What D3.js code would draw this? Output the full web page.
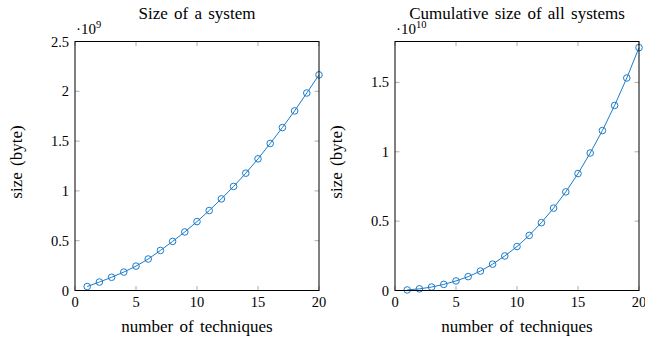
<!DOCTYPE html>
<html>
<head>
<meta charset="UTF-8" />
<title>system size</title>
<style>
    body { margin: 0; padding: 0; background: #fff; }
    svg { display: block; }
    svg text { font-family: 'Liberation Serif', 'Times New Roman', 'DejaVu Serif', serif; }
</style>
</head>
<body>
<div class="container"></div>
<script src="https://cdnjs.cloudflare.com/ajax/libs/d3/7.8.5/d3.min.js"></script>
<script>
    // number of techniques
    const techniques = [1, 2, 3, 4, 5, 6, 7, 8, 9, 10, 11, 12, 13, 14, 15, 16, 17, 18, 19, 20];
    // size of one system, in units of 1e9 byte
    const systemSize = [0.04, 0.085, 0.133, 0.185, 0.245, 0.316, 0.402, 0.493, 0.588, 0.692,
        0.803, 0.92, 1.045, 1.178, 1.322, 1.476, 1.636, 1.803, 1.983, 2.165];
    // cumulative size of all systems, in units of 1e10 byte
    const cumulativeSize = [0.004, 0.012, 0.025, 0.044, 0.069, 0.1, 0.14, 0.19, 0.249, 0.317,
        0.397, 0.489, 0.594, 0.711, 0.843, 0.991, 1.153, 1.334, 1.532, 1.751];
    const xTicks = [0, 5, 10, 15, 20];
    const leftYTicks = [0, 0.5, 1, 1.5, 2, 2.5];
    const rightYTicks = [0, 0.5, 1, 1.5];

    const width = 645, height = 339;
    const svg = d3.select('.container').append('svg')
        .attr('width', width)
        .attr('height', height);

    const color = '#1a7ccb';

    const drawPanel = (opts) => {
        const { left, right, title, values, yMax, yTicks, exponent } = opts;
        const top = 41.5, bottom = 290.5;

        const x = d3.scaleLinear().domain([0, 20]).range([left, right]);
        const y = d3.scaleLinear().domain([0, yMax]).range([bottom, top]);

        const g = svg.append('g');

        // inward ticks on all four sides
        const tickLen = 4.5;
        const tk = g.append('g').attr('stroke', '#999').attr('stroke-width', 0.8);
        xTicks.forEach(t => {
            tk.append('line').attr('x1', x(t)).attr('x2', x(t)).attr('y1', bottom).attr('y2', bottom - tickLen);
            tk.append('line').attr('x1', x(t)).attr('x2', x(t)).attr('y1', top).attr('y2', top + tickLen);
        });
        yTicks.forEach(t => {
            tk.append('line').attr('x1', left).attr('x2', left + tickLen).attr('y1', y(t)).attr('y2', y(t));
            tk.append('line').attr('x1', right).attr('x2', right - tickLen).attr('y1', y(t)).attr('y2', y(t));
        });

        // tick labels
        g.append('g').selectAll('text')
            .data(xTicks)
            .join('text')
            .attr('x', d => x(d))
            .attr('y', bottom + 16)
            .attr('text-anchor', 'middle')
            .attr('font-size', 14.5)
            .text(d => d);

        g.append('g').selectAll('text')
            .data(yTicks)
            .join('text')
            .attr('x', left - 6)
            .attr('y', d => y(d) + 5)
            .attr('text-anchor', 'end')
            .attr('font-size', 14.5)
            .text(d => d);

        // exponent label
        const ex = g.append('text')
            .attr('x', left + 1)
            .attr('y', top - 8)
            .attr('font-size', 15);
        ex.append('tspan').text('·10');
        ex.append('tspan').attr('dy', -5.5).attr('font-size', 10.5).text(exponent);

        // line and markers
        const pts = techniques.map((t, i) => [t, values[i]]);
        g.append('path')
            .datum(pts)
            .attr('fill', 'none')
            .attr('stroke', color)
            .attr('stroke-width', 1)
            .attr('d', d3.line().x(d => x(d[0])).y(d => y(d[1])));

        g.append('g').selectAll('circle')
            .data(pts)
            .join('circle')
            .attr('cx', d => x(d[0]))
            .attr('cy', d => y(d[1]))
            .attr('r', 3.3)
            .attr('fill', 'none')
            .attr('stroke', color)
            .attr('stroke-width', 1);

        // frame
        g.append('rect')
            .attr('x', left).attr('y', top)
            .attr('width', right - left).attr('height', bottom - top)
            .attr('fill', 'none')
            .attr('stroke', '#000')
            .attr('stroke-width', 1);

        // titles and axis labels
        g.append('text')
            .attr('x', (left + right) / 2)
            .attr('y', 19)
            .attr('text-anchor', 'middle')
            .attr('font-size', 17)
            .attr('word-spacing', 2)
            .text(title);

        g.append('text')
            .attr('x', (left + right) / 2)
            .attr('y', 331.5)
            .attr('text-anchor', 'middle')
            .attr('font-size', 17)
            .attr('word-spacing', 2)
            .text('number of techniques');

        g.append('text')
            .attr('transform', `translate(${left - 53.5},162) rotate(-90)`)
            .attr('text-anchor', 'middle')
            .attr('font-size', 17)
            .attr('word-spacing', 2)
            .text('size (byte)');
    };

    drawPanel({ left: 75, right: 319, title: 'Size of a system', values: systemSize, yMax: 2.5, yTicks: leftYTicks, exponent: '9' });
    drawPanel({ left: 395, right: 639, title: 'Cumulative size of all systems', values: cumulativeSize, yMax: 1.795, yTicks: rightYTicks, exponent: '10' });
</script>
</body>
</html>
